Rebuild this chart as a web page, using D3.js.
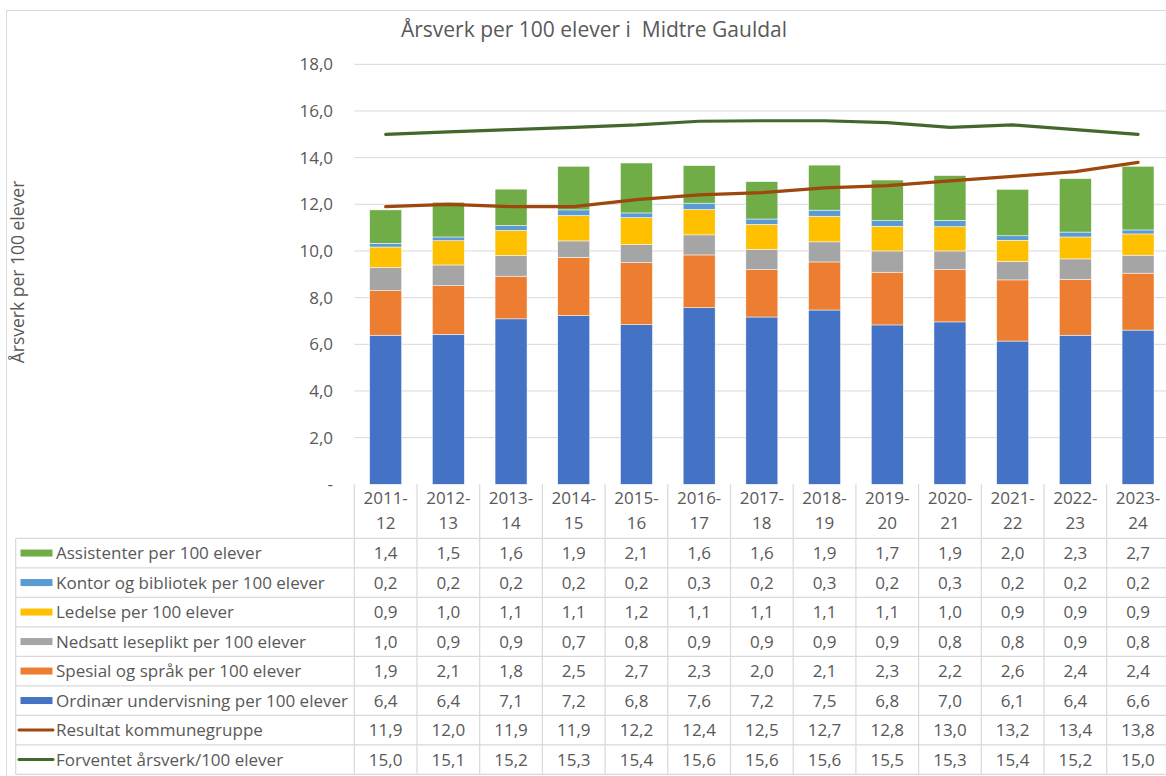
<!DOCTYPE html>
<html>
<head>
<meta charset="utf-8">
<script src="https://cdnjs.cloudflare.com/ajax/libs/d3/7.8.5/d3.min.js"></script>
<style>
  body { margin: 0; background: #fff; }
  text { font-family: "Open Sans", Lato, sans-serif; fill: #595959; white-space: pre; }
</style>
</head>
<body>
<svg width="1166" height="776"></svg>
<script>
let svg = d3.select("svg");

// data (bar heights; table shows them rounded)
let years = ["2011-12", "2012-13", "2013-14", "2014-15", "2015-16", "2016-17", "2017-18",
  "2018-19", "2019-20", "2020-21", "2021-22", "2022-23", "2023-24"];
let ordinaer = [6.39, 6.43, 7.09, 7.23, 6.84, 7.57, 7.17, 7.47, 6.83, 6.96, 6.14, 6.39, 6.61];
let spesial = [1.91, 2.08, 1.83, 2.50, 2.66, 2.26, 2.03, 2.06, 2.26, 2.24, 2.62, 2.40, 2.44];
let nedsatt = [0.99, 0.89, 0.89, 0.70, 0.77, 0.86, 0.87, 0.86, 0.91, 0.80, 0.80, 0.87, 0.77];
let ledelse = [0.88, 1.04, 1.07, 1.09, 1.16, 1.09, 1.07, 1.10, 1.06, 1.04, 0.90, 0.94, 0.91];
let kontor = [0.16, 0.16, 0.21, 0.24, 0.20, 0.27, 0.23, 0.26, 0.24, 0.27, 0.19, 0.21, 0.17];
let assistenter = [1.43, 1.49, 1.56, 1.87, 2.14, 1.61, 1.60, 1.93, 1.74, 1.92, 1.99, 2.29, 2.73];
let kommunegruppe = [11.9, 12.0, 11.9, 11.9, 12.2, 12.4, 12.5, 12.7, 12.8, 13.0, 13.2, 13.4, 13.8];
let forventet = [15.0, 15.1, 15.2, 15.3, 15.4, 15.56, 15.58, 15.58, 15.5, 15.3, 15.4, 15.2, 15.0];
let yTicks = [0, 2, 4, 6, 8, 10, 12, 14, 16, 18];

let barSeries = [
  { name: "Ordinær undervisning per 100 elever", values: ordinaer, color: "#4472C4" },
  { name: "Spesial og språk per 100 elever", values: spesial, color: "#ED7D31" },
  { name: "Nedsatt leseplikt per 100 elever", values: nedsatt, color: "#A5A5A5" },
  { name: "Ledelse per 100 elever", values: ledelse, color: "#FFC000" },
  { name: "Kontor og bibliotek per 100 elever", values: kontor, color: "#5B9BD5" },
  { name: "Assistenter per 100 elever", values: assistenter, color: "#70AD47" }
];
let lineSeries = [
  { name: "Resultat kommunegruppe", values: kommunegruppe, color: "#9E480E" },
  { name: "Forventet årsverk/100 elever", values: forventet, color: "#43682B" }
];

let fmt = v => d3.format(".1f")(v).replace(".", ",");

let left = 354.3, right = 354.3 + 13 * 62.7;
let x = d3.scaleBand().domain(years).range([left, right]).paddingInner(0.49).paddingOuter(0.245);
let xCell = d3.scaleBand().domain(years).range([left, right]);
let y = d3.scaleLinear().domain([0, 18]).range([484.3, 64.3]);

// outer border
svg.append("rect").attr("x", 6.5).attr("y", 10.5).attr("width", 1170).attr("height", 800)
  .attr("fill", "none").attr("stroke", "#d9d9d9");

// title
svg.append("text").attr("x", 594).attr("y", 37).attr("text-anchor", "middle")
  .style("font-size", "21px").text("Årsverk per 100 elever i  Midtre Gauldal");

// y axis title
svg.append("text").attr("transform", "translate(24,272) rotate(-90)")
  .attr("text-anchor", "middle").style("font-size", "17.5px").text("Årsverk per 100 elever");

// grid + y labels
svg.selectAll(".grid").data(yTicks.filter(d => d > 0)).enter().append("line")
  .attr("x1", left).attr("x2", 1166)
  .attr("y1", d => y(d)).attr("y2", d => y(d))
  .attr("stroke", "#d9d9d9").attr("stroke-width", 1);
svg.selectAll(".ylab").data(yTicks).enter().append("text")
  .attr("x", 333).attr("y", d => y(d) + 6).attr("text-anchor", "end")
  .style("font-size", "17px").text(d => d === 0 ? "-" : fmt(d));

// stacked bars
let stackData = years.map((yr, i) => {
  let row = { year: yr };
  barSeries.forEach(s => row[s.name] = s.values[i]);
  return row;
});
let stack = d3.stack().keys(barSeries.map(s => s.name))(stackData);
svg.selectAll(".layer").data(stack).enter().append("g")
  .attr("fill", (d, i) => barSeries[i].color)
  .selectAll("rect").data(d => d).enter().append("rect")
  .attr("x", d => x(d.data.year))
  .attr("width", x.bandwidth())
  .attr("y", d => y(d[1]))
  .attr("height", d => y(d[0]) - y(d[1]))
  .attr("stroke", "#fff").attr("stroke-width", 0.5);

// lines
let line = d3.line().x((d, i) => xCell(years[i]) + xCell.bandwidth() / 2).y(d => y(d));
lineSeries.forEach(s => {
  svg.append("path").datum(s.values).attr("d", line)
    .attr("fill", "none").attr("stroke", s.color).attr("stroke-width", 3.2)
    .attr("stroke-linecap", "round");
});

// data table
let rowTop = 538.3, rowH = 29.5;
let tableRows = barSeries.slice().reverse().map(s => ({ ...s, type: "bar" }))
  .concat(lineSeries.map(s => ({ ...s, type: "line" })));
let grid = svg.append("g").attr("stroke", "#d9d9d9").attr("stroke-width", 1.2);

grid.selectAll(".hv").data(years.concat(["end"])).enter().append("line")
  .attr("x1", (d, i) => left + i * xCell.bandwidth()).attr("x2", (d, i) => left + i * xCell.bandwidth())
  .attr("y1", 484.3).attr("y2", rowTop + tableRows.length * rowH);
grid.append("line").attr("x1", 15.7).attr("x2", 15.7).attr("y1", rowTop).attr("y2", rowTop + tableRows.length * rowH);
grid.selectAll(".hh").data(d3.range(tableRows.length + 1)).enter().append("line")
  .attr("x1", 15.7).attr("x2", 1170)
  .attr("y1", d => rowTop + d * rowH).attr("y2", d => rowTop + d * rowH);

svg.selectAll(".yr1").data(years).enter().append("text")
  .attr("x", d => xCell(d) + xCell.bandwidth() / 2).attr("y", 504)
  .attr("text-anchor", "middle").style("font-size", "17px").text(d => d.split("-")[0] + "-");
svg.selectAll(".yr2").data(years).enter().append("text")
  .attr("x", d => xCell(d) + xCell.bandwidth() / 2).attr("y", 529)
  .attr("text-anchor", "middle").style("font-size", "17px").text(d => d.split("-")[1]);

tableRows.forEach((r, ri) => {
  let cy = rowTop + ri * rowH + rowH / 2;
  if (r.type === "bar") {
    svg.append("rect").attr("x", 20.5).attr("y", cy - 3.5).attr("width", 32).attr("height", 7).attr("fill", r.color);
  } else {
    svg.append("line").attr("x1", 19).attr("x2", 53).attr("y1", cy).attr("y2", cy)
      .attr("stroke", r.color).attr("stroke-width", 3).attr("stroke-linecap", "round");
  }
  svg.append("text").attr("x", 56).attr("y", cy + 6).style("font-size", "17px").text(r.name);
  svg.selectAll(null).data(r.values).enter().append("text")
    .attr("x", (d, i) => xCell(years[i]) + xCell.bandwidth() / 2).attr("y", cy + 6)
    .attr("text-anchor", "middle").style("font-size", "17px").text(d => fmt(d));
});
</script>
</body>
</html>
